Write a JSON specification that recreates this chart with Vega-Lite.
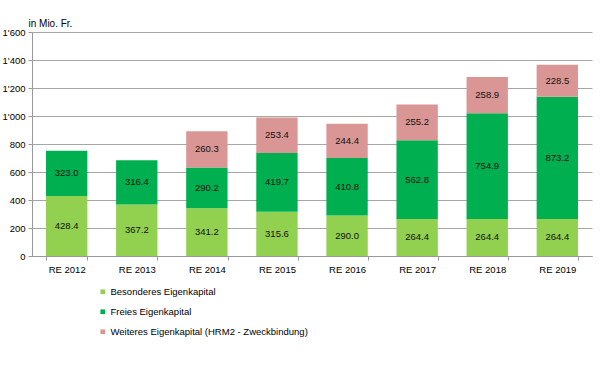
{
  "$schema": "https://vega.github.io/schema/vega-lite/v6.json",
  "width": 560,
  "height": 224,
  "autosize": "none",
  "padding": {"left": 32, "top": 32, "right": 8, "bottom": 126},
  "background": "white",
  "config": {
    "font": "Liberation Sans",
    "view": {"stroke": null},
    "locale": {"number": {"decimal": ".", "thousands": "'", "grouping": [3], "currency": ["", ""]}}
  },
  "data": {
    "values": [
      {"jahr": "RE 2012", "kat": "Besonderes Eigenkapital", "ord": 1, "wert": 428.4},
      {"jahr": "RE 2012", "kat": "Freies Eigenkapital", "ord": 2, "wert": 323.0},
      {"jahr": "RE 2013", "kat": "Besonderes Eigenkapital", "ord": 1, "wert": 367.2},
      {"jahr": "RE 2013", "kat": "Freies Eigenkapital", "ord": 2, "wert": 316.4},
      {"jahr": "RE 2014", "kat": "Besonderes Eigenkapital", "ord": 1, "wert": 341.2},
      {"jahr": "RE 2014", "kat": "Freies Eigenkapital", "ord": 2, "wert": 290.2},
      {"jahr": "RE 2014", "kat": "Weiteres Eigenkapital (HRM2 - Zweckbindung)", "ord": 3, "wert": 260.3},
      {"jahr": "RE 2015", "kat": "Besonderes Eigenkapital", "ord": 1, "wert": 315.6},
      {"jahr": "RE 2015", "kat": "Freies Eigenkapital", "ord": 2, "wert": 419.7},
      {"jahr": "RE 2015", "kat": "Weiteres Eigenkapital (HRM2 - Zweckbindung)", "ord": 3, "wert": 253.4},
      {"jahr": "RE 2016", "kat": "Besonderes Eigenkapital", "ord": 1, "wert": 290.0},
      {"jahr": "RE 2016", "kat": "Freies Eigenkapital", "ord": 2, "wert": 410.8},
      {"jahr": "RE 2016", "kat": "Weiteres Eigenkapital (HRM2 - Zweckbindung)", "ord": 3, "wert": 244.4},
      {"jahr": "RE 2017", "kat": "Besonderes Eigenkapital", "ord": 1, "wert": 264.4},
      {"jahr": "RE 2017", "kat": "Freies Eigenkapital", "ord": 2, "wert": 562.8},
      {"jahr": "RE 2017", "kat": "Weiteres Eigenkapital (HRM2 - Zweckbindung)", "ord": 3, "wert": 255.2},
      {"jahr": "RE 2018", "kat": "Besonderes Eigenkapital", "ord": 1, "wert": 264.4},
      {"jahr": "RE 2018", "kat": "Freies Eigenkapital", "ord": 2, "wert": 754.9},
      {"jahr": "RE 2018", "kat": "Weiteres Eigenkapital (HRM2 - Zweckbindung)", "ord": 3, "wert": 258.9},
      {"jahr": "RE 2019", "kat": "Besonderes Eigenkapital", "ord": 1, "wert": 264.4},
      {"jahr": "RE 2019", "kat": "Freies Eigenkapital", "ord": 2, "wert": 873.2},
      {"jahr": "RE 2019", "kat": "Weiteres Eigenkapital (HRM2 - Zweckbindung)", "ord": 3, "wert": 228.5}
    ]
  },
  "transform": [
    {"stack": "wert", "groupby": ["jahr"], "sort": [{"field": "ord", "order": "ascending"}], "as": ["y0", "y1"]},
    {"calculate": "(datum.y0 + datum.y1) / 2", "as": "ymid"}
  ],
  "encoding": {
    "x": {
      "field": "jahr", "type": "nominal", "title": null,
      "scale": {"paddingInner": 0.41, "paddingOuter": 0.2},
      "axis": {
        "labelAngle": 0, "labelFontSize": 9.5, "labelColor": "#000000", "labelPadding": 4,
        "domainColor": "#999999", "tickColor": "#999999", "tickSize": 4, "tickBand": "extent",
        "grid": false
      }
    }
  },
  "layer": [
    {
      "mark": {"type": "bar"},
      "encoding": {
        "y": {
          "field": "y0", "type": "quantitative",
          "scale": {"domain": [0, 1600], "nice": false},
          "axis": {
            "values": [0, 200, 400, 600, 800, 1000, 1200, 1400, 1600],
            "labelOverlap": false,
            "format": ",d", "labelFontSize": 9.5, "labelColor": "#000000",
            "domainColor": "#999999", "tickColor": "#999999", "tickSize": 4, "labelPadding": 3,
            "gridColor": "#a6a6a6", "gridWidth": 1,
            "title": "in Mio. Fr.", "titleAngle": 0, "titleAlign": "left", "titleBaseline": "bottom",
            "titleX": -4, "titleY": -4, "titleFontSize": 10, "titleFontWeight": "normal", "titleColor": "#000000"
          }
        },
        "y2": {"field": "y1"},
        "color": {
          "field": "kat", "type": "nominal",
          "sort": ["Besonderes Eigenkapital", "Freies Eigenkapital", "Weiteres Eigenkapital (HRM2 - Zweckbindung)"],
          "scale": {
            "domain": ["Besonderes Eigenkapital", "Freies Eigenkapital", "Weiteres Eigenkapital (HRM2 - Zweckbindung)"],
            "range": ["#92D050", "#00B050", "#D99694"]
          },
          "legend": {
            "title": null, "orient": "none", "legendX": 66, "legendY": 255,
            "direction": "vertical", "symbolType": "square", "symbolSize": 22,
            "labelFontSize": 9.5, "labelColor": "#000000", "rowPadding": 9, "labelOffset": 3,
            "labelLimit": 400
          }
        }
      }
    },
    {
      "mark": {"type": "text", "fontSize": 9.5, "color": "#111111", "baseline": "middle"},
      "encoding": {
        "y": {
          "field": "ymid", "type": "quantitative",
          "scale": {"domain": [0, 1600], "nice": false},
          "axis": {
            "values": [0, 200, 400, 600, 800, 1000, 1200, 1400, 1600],
            "labelOverlap": false,
            "format": ",d", "labelFontSize": 9.5, "labelColor": "#000000",
            "domainColor": "#999999", "tickColor": "#999999", "tickSize": 4, "labelPadding": 3,
            "gridColor": "#a6a6a6", "gridWidth": 1,
            "title": "in Mio. Fr.", "titleAngle": 0, "titleAlign": "left", "titleBaseline": "bottom",
            "titleX": -4, "titleY": -4, "titleFontSize": 10, "titleFontWeight": "normal", "titleColor": "#000000"
          }
        },
        "text": {"field": "wert", "type": "quantitative", "format": ".1f"}
      }
    }
  ]
}
